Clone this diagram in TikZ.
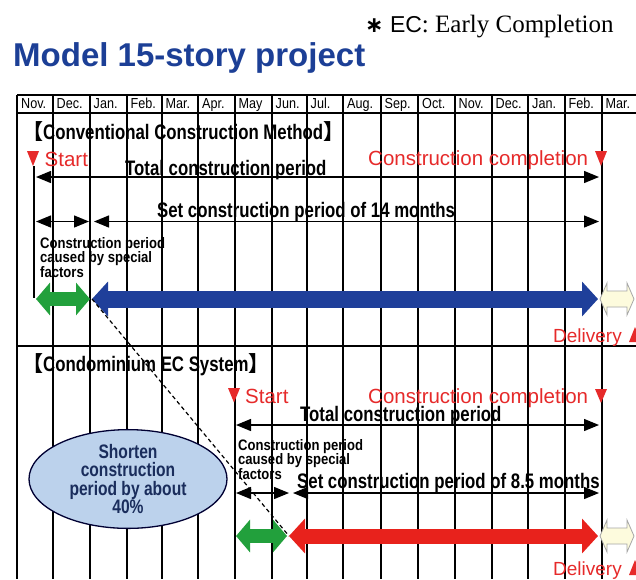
\documentclass[tikz,border=0pt]{standalone}
\usepackage{fontspec}
\setmainfont{Liberation Sans}
\newfontfamily\cond[FakeStretch=0.8]{Liberation Sans}
\newfontfamily\condn[FakeStretch=0.86]{Liberation Sans}
\newfontfamily\condm[FakeStretch=0.87]{Liberation Sans}
\newfontfamily\timesf{Liberation Serif}
\newfontfamily\cjkf{Noto Sans CJK JP}
\newfontfamily\djv{DejaVu Sans}
\usetikzlibrary{arrows.meta,shapes.geometric}
\definecolor{ttlblue}{HTML}{1C3F96}
\definecolor{redtxt}{HTML}{E62A2A}
\definecolor{barblue}{HTML}{1F3F9A}
\definecolor{bargreen}{HTML}{22A03C}
\definecolor{barred}{HTML}{E8221C}
\definecolor{ellfill}{HTML}{BCD2EC}
\definecolor{elltxt}{HTML}{1A2D5C}
\definecolor{pale}{HTML}{FDFBDD}
\tikzset{
  gridline/.style={line width=1.8pt, black},
  month/.style={anchor=base west, inner sep=0pt, font=\condm\fontsize{14.5}{14.5}\selectfont},
  sect/.style={anchor=base west, inner sep=0pt, font=\cond\bfseries\fontsize{21}{21}\selectfont},
  lbl/.style={anchor=base west, inner sep=0pt, font=\cond\bfseries\fontsize{21}{21}\selectfont},
  redlbl/.style={anchor=base west, inner sep=0pt, text=redtxt, font=\fontsize{20.5}{20.5}\selectfont},
  smalllbl/.style={anchor=base west, inner sep=0pt, font=\condn\bfseries\fontsize{15.2}{15.2}\selectfont},
  marker/.style={fill=redtxt},
  startline/.style={line width=1.4pt, black},
  dimline/.style={line width=1.3pt, black, arrows={Triangle[length=15pt,width=12pt]-Triangle[length=15pt,width=12pt]}},
  fatarrow/.style={line width=17pt, arrows={Triangle[length=16pt,width=34pt]-Triangle[length=16pt,width=34pt]}},
  midarrow/.style={line width=14pt, arrows={Triangle[length=14pt,width=32pt]-Triangle[length=14pt,width=32pt]}},
  paleshape/.style={fill=pale, draw=gray!70, line width=0.8pt},
  dashedlink/.style={line width=1.2pt, black, dash pattern=on 4pt off 3pt},
  ellnode/.style={ellipse, draw=black!80!blue, line width=1.3pt, fill=ellfill, minimum width=198pt, minimum height=86pt, inner sep=0pt, align=center, text=elltxt, font=\cond\bfseries\fontsize{19.5}{18.5}\selectfont},
}
\begin{document}
\begin{tikzpicture}[x=1pt,y=-1pt]
\clip (0,0) rectangle (636,579);
\fill[white] (0,0) rectangle (636,579);
% title
\node[anchor=base west, inner sep=0pt, text=ttlblue, font=\bfseries\fontsize{33}{33}\selectfont] (title) at (13,66.5) {Model 15-story project};
\node[anchor=base west, inner sep=0pt] (ecnote) at (365,32) {{\djv\bfseries\fontsize{22}{22}\selectfont ∗}{\fontsize{23}{23}\selectfont\ EC}{\timesf\fontsize{25}{25}\selectfont: Early Completion}};
% grid
\foreach \xx in {17.3,52.7,90,126.7,161.7,198.3,235,271.7,306.7,343.3,381,418.3,455,491.7,528.3,565,601.7}
  \draw[gridline] (\xx,95) -- (\xx,579);
\draw[gridline] (17.3,95) -- (636,95);
\draw[gridline] (17.3,113) -- (636,113);
\draw[gridline] (17.3,346) -- (636,346);
% months
\node[month] (m1) at (21,108) {Nov.};
\node[month] (m2) at (56.5,108) {Dec.};
\node[month] (m3) at (93.5,108) {Jan.};
\node[month] (m4) at (130.5,108) {Feb.};
\node[month] (m5) at (165.5,108) {Mar.};
\node[month] (m6) at (202,108) {Apr.};
\node[month] (m7) at (238.5,108) {May};
\node[month] (m8) at (275.5,108) {Jun.};
\node[month] (m9) at (310.5,108) {Jul.};
\node[month] (m10) at (347,108) {Aug.};
\node[month] (m11) at (384.5,108) {Sep.};
\node[month] (m12) at (422,108) {Oct.};
\node[month] (m13) at (458.5,108) {Nov.};
\node[month] (m14) at (495.5,108) {Dec.};
\node[month] (m15) at (532,108) {Jan.};
\node[month] (m16) at (568.5,108) {Feb.};
\node[month] (m17) at (605.5,108) {Mar.};
% ---------- section 1
\node[sect] (sec1) at (22,139) {{\cjkf 【}Conventional Construction Method{\cjkf 】}};
\fill[marker] (27,151) -- (39,151) -- (33,166) -- cycle;
\node[redlbl] (start1) at (44.5,166.5) {Start};
\node[lbl] (tot1) at (125,175) {Total construction period};
\node[redlbl] (comp1) at (368,165) {Construction completion};
\fill[marker] (595,151) -- (607,151) -- (601,166) -- cycle;
\node[lbl] (set1) at (157,217) {Set construction period of 14 months};
\node[smalllbl] (sp1a) at (40,248) {Construction period};
\node[smalllbl] (sp1b) at (40,262.5) {caused by special};
\node[smalllbl] (sp1c) at (40,277) {factors};
\node[redlbl, font=\fontsize{19}{19}\selectfont] (del1) at (553,342) {Delivery};
\fill[marker] (629,342) -- (641,342) -- (635,327) -- cycle;
\coordinate (s1top) at (34,166);
\coordinate (s1bot) at (34,298);
\draw[startline] (s1top) -- (s1bot);
\coordinate (t1a) at (36,177);
\coordinate (t1b) at (599,177);
\draw[dimline] (t1a) -- (t1b);
\coordinate (d1a) at (36,221.5);
\coordinate (d1b) at (89,221.5);
\coordinate (d1c) at (94,221.5);
\coordinate (d1d) at (599,221.5);
\draw[dimline] (d1a) -- (d1b);
\draw[dimline] (d1c) -- (d1d);
\coordinate (g1a) at (36,299);
\coordinate (g1b) at (90,299);
\coordinate (b1a) at (92,299);
\coordinate (b1b) at (598,299);
\draw[midarrow, bargreen] (g1a) -- (g1b);
\draw[fatarrow, barblue] (b1a) -- (b1b);
\draw[paleshape] (600,299) -- (607,283) -- (607,291) -- (627,291) -- (627,283) -- (634,299) -- (627,315) -- (627,307) -- (607,307) -- (607,315) -- cycle;
% ---------- section 2
\node[sect] (sec2) at (22,371.7) {{\cjkf 【}Condominium EC System{\cjkf 】}};
\fill[marker] (228,388) -- (240,388) -- (234,402.5) -- cycle;
\node[redlbl] (start2) at (245,403) {Start};
\node[redlbl] (comp2) at (368,403) {Construction completion};
\fill[marker] (595,389) -- (607,389) -- (601,403) -- cycle;
\node[lbl] (tot2) at (300,421.7) {Total construction period};
\node[smalllbl] (sp2a) at (238,450) {Construction period};
\node[smalllbl] (sp2b) at (238,464.5) {caused by special};
\node[smalllbl] (sp2c) at (238,479) {factors};
\node[lbl] (set2) at (297,488) {Set construction period of 8.5 months};
\node[redlbl, font=\fontsize{19}{19}\selectfont] (del2) at (553,575) {Delivery};
\fill[marker] (629,575) -- (641,575) -- (635,560) -- cycle;
\coordinate (t2a) at (236,425);
\coordinate (t2b) at (599,425);
\draw[dimline] (t2a) -- (t2b);
\coordinate (d2a) at (236,493);
\coordinate (d2b) at (289,493);
\coordinate (d2c) at (293,493);
\coordinate (d2d) at (599,493);
\draw[dimline] (d2a) -- (d2b);
\draw[dimline] (d2c) -- (d2d);
\coordinate (g2a) at (236,536);
\coordinate (g2b) at (287,536);
\coordinate (r2a) at (289,536);
\coordinate (r2b) at (598,536);
\draw[midarrow, bargreen] (g2a) -- (g2b);
\draw[fatarrow, line width=15pt, barred] (r2a) -- (r2b);
\draw[paleshape] (600,536) -- (607,520) -- (607,528) -- (627,528) -- (627,520) -- (634,536) -- (627,552) -- (627,544) -- (607,544) -- (607,552) -- cycle;
% link and ellipse
\draw[dashedlink] (b1a) -- (r2a);
\node[ellnode] (ell) at (128,479) {Shorten\\construction\\period by about\\40\%};
\end{tikzpicture}
\end{document}
